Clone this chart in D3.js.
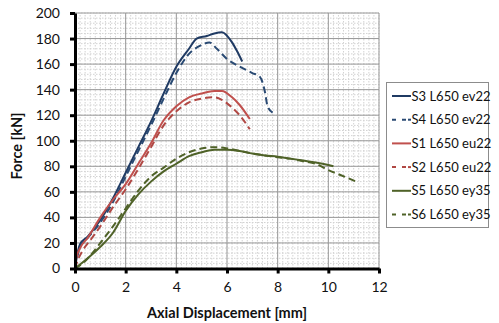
<!DOCTYPE html>
<html>
<head>
<meta charset="utf-8">
<script src="https://cdn.jsdelivr.net/npm/d3@7"></script>
<style>
  html, body { margin: 0; padding: 0; background: #fff; }
  svg { display: block; font-family: Lato, "Open Sans", sans-serif; }
</style>
</head>
<body>
<svg id="chart" width="499" height="323"></svg>
<script>
// Force–displacement curves, [displacement mm, force kN]
const s3 = [[0,0],[0.1,12],[0.2,19],[0.5,25],[1,38],[1.5,55],[2,75],[2.5,95],[3,115],[3.5,137],[4,158],[4.5,172],[4.8,180],[5.2,182],[5.5,184],[5.8,185],[6.2,177],[6.4,170],[6.6,162]];
const s4 = [[0,0],[0.1,10],[0.2,17],[0.5,24],[1,36],[1.5,52],[2,72],[2.5,92],[3,112],[3.5,133],[4,153],[4.5,168],[5,175],[5.3,177],[5.6,172],[6,164],[6.5,158],[7,153],[7.3,150],[7.5,138],[7.6,127],[7.8,122]];
const s1 = [[0,0],[0.05,8],[0.2,16],[0.5,24],[1,40],[1.5,54],[2,66],[2.5,82],[3,98],[3.5,116],[4,127],[4.5,134],[5,137],[5.5,139],[5.8,139],[6.2,134],[6.5,128],[6.9,117]];
const s2 = [[0,0],[0.1,6],[0.3,14],[0.6,22],[1,33],[1.5,48],[2,62],[2.5,78],[3,95],[3.5,112],[4,123],[4.5,130],[5,133],[5.5,134],[5.8,132],[6.2,126],[6.5,120],[6.9,109]];
const s5 = [[0,0],[0.5,8],[1,17],[1.5,28],[2,45],[2.5,58],[3,68],[3.5,76],[4,82],[4.5,88],[5,91],[5.5,93],[6,93],[6.5,92],[7,90],[7.5,88.5],[8,87.5],[8.5,86],[9,84.5],[9.5,83],[10,81],[10.2,80]];
const s6 = [[0,0],[0.3,4],[0.6,10],[1,20],[1.5,33],[2,47],[2.5,61],[3,72],[3.5,79],[4,86],[4.5,91],[5,94],[5.5,95],[6,94],[6.5,92],[7,90],[7.5,88.5],[8,87],[8.5,86],[9,84],[9.5,82],[10,77],[10.5,73],[11.1,68]];

const seriesNames = ["S3 L650 ev22","S4 L650 ev22","S1 L650 eu22","S2 L650 eu22","S5 L650 ey35","S6 L650 ey35"];
const seriesData = [s3, s4, s1, s2, s5, s6];
const seriesColors = ["#1f3a63","#2a4a73","#c0504d","#b04844","#4f6228","#4f6228"];
const seriesDashed = [false, true, false, true, false, true];

const xTicks = [0,2,4,6,8,10,12];
const yTicks = [0,20,40,60,80,100,120,140,160,180,200];

const svg = d3.select("#chart");
const x = d3.scaleLinear().domain([0, 12]).range([75, 379]);
const y = d3.scaleLinear().domain([0, 200]).range([268.5, 13]);

// grid: dotted minor lines, solid major lines
const grid = svg.append("g");
grid.selectAll("line.minx").data(d3.range(0, 12.001, 0.2)).join("line")
  .attr("x1", d => x(d)).attr("x2", d => x(d)).attr("y1", y(0)).attr("y2", y(200))
  .attr("stroke", "#d2d2d2").attr("stroke-width", 1).attr("stroke-dasharray", "1.5,1.5");
grid.selectAll("line.miny").data(d3.range(0, 200.001, 4)).join("line")
  .attr("y1", d => y(d)).attr("y2", d => y(d)).attr("x1", x(0)).attr("x2", x(12))
  .attr("stroke", "#d2d2d2").attr("stroke-width", 1).attr("stroke-dasharray", "1.5,1.5");
grid.selectAll("line.majx").data(xTicks).join("line")
  .attr("x1", d => x(d)).attr("x2", d => x(d)).attr("y1", y(0)).attr("y2", y(200))
  .attr("stroke", "#9a9a9a").attr("stroke-width", 1);
grid.selectAll("line.majy").data(yTicks).join("line")
  .attr("y1", d => y(d)).attr("y2", d => y(d)).attr("x1", x(0)).attr("x2", x(12))
  .attr("stroke", "#9a9a9a").attr("stroke-width", 1);

// curves
const line = d3.line().x(d => x(d[0])).y(d => y(d[1])).curve(d3.curveMonotoneX);
seriesData.forEach((data, i) => {
  svg.append("path").datum(data)
    .attr("d", line)
    .attr("fill", "none")
    .attr("stroke", seriesColors[i])
    .attr("stroke-width", 2)
    .attr("stroke-linejoin", "round")
    .attr("stroke-dasharray", seriesDashed[i] ? "7,4" : null);
});

// axes
const yAxis = svg.append("g").attr("transform", `translate(${x(0)},0)`)
  .call(d3.axisLeft(y).tickValues(yTicks).tickSize(5).tickPadding(10).tickSizeOuter(0));
const xAxis = svg.append("g").attr("transform", `translate(0,${y(0)})`)
  .call(d3.axisBottom(x).tickValues(xTicks).tickSize(5).tickPadding(9).tickSizeOuter(0));
[xAxis, yAxis].forEach(ax => {
  ax.select(".domain").attr("stroke", "#000").attr("stroke-width", 3);
  ax.selectAll(".tick line").attr("stroke", "#000").attr("stroke-width", 3);
  ax.selectAll(".tick text").attr("font-size", 14).attr("fill", "#111")
    .attr("font-family", "Lato, 'Open Sans', sans-serif");
});

// axis titles
svg.append("text")
  .attr("x", 227).attr("y", 318)
  .attr("text-anchor", "middle")
  .attr("font-size", 14.5).attr("font-weight", "bold").attr("fill", "#111")
  .text("Axial Displacement [mm]");
svg.append("text")
  .attr("transform", "translate(22,146) rotate(-90)")
  .attr("text-anchor", "middle")
  .attr("font-size", 14.5).attr("font-weight", "bold").attr("fill", "#111")
  .text("Force [kN]");

// legend
const legend = svg.append("g");
legend.append("rect")
  .attr("x", 386.5).attr("y", 82.5).attr("width", 102).attr("height", 145)
  .attr("fill", "#fff").attr("stroke", "#8c8c8c").attr("stroke-width", 1);
seriesNames.forEach((name, i) => {
  const cy = 96 + i * 23.7;
  legend.append("line")
    .attr("x1", 392).attr("x2", 411).attr("y1", cy).attr("y2", cy)
    .attr("stroke", seriesColors[i]).attr("stroke-width", 2)
    .attr("stroke-dasharray", seriesDashed[i] ? "4,6" : null);
  if (seriesDashed[i]) {
    // short closing dash touching the label
    legend.append("line")
      .attr("x1", 408).attr("x2", 411).attr("y1", cy).attr("y2", cy)
      .attr("stroke", seriesColors[i]).attr("stroke-width", 2);
  }
  legend.append("text")
    .attr("x", 411.5).attr("y", cy).attr("dy", "0.35em")
    .attr("font-size", 13).attr("fill", "#111")
    .text(name);
});
</script>
</body>
</html>
